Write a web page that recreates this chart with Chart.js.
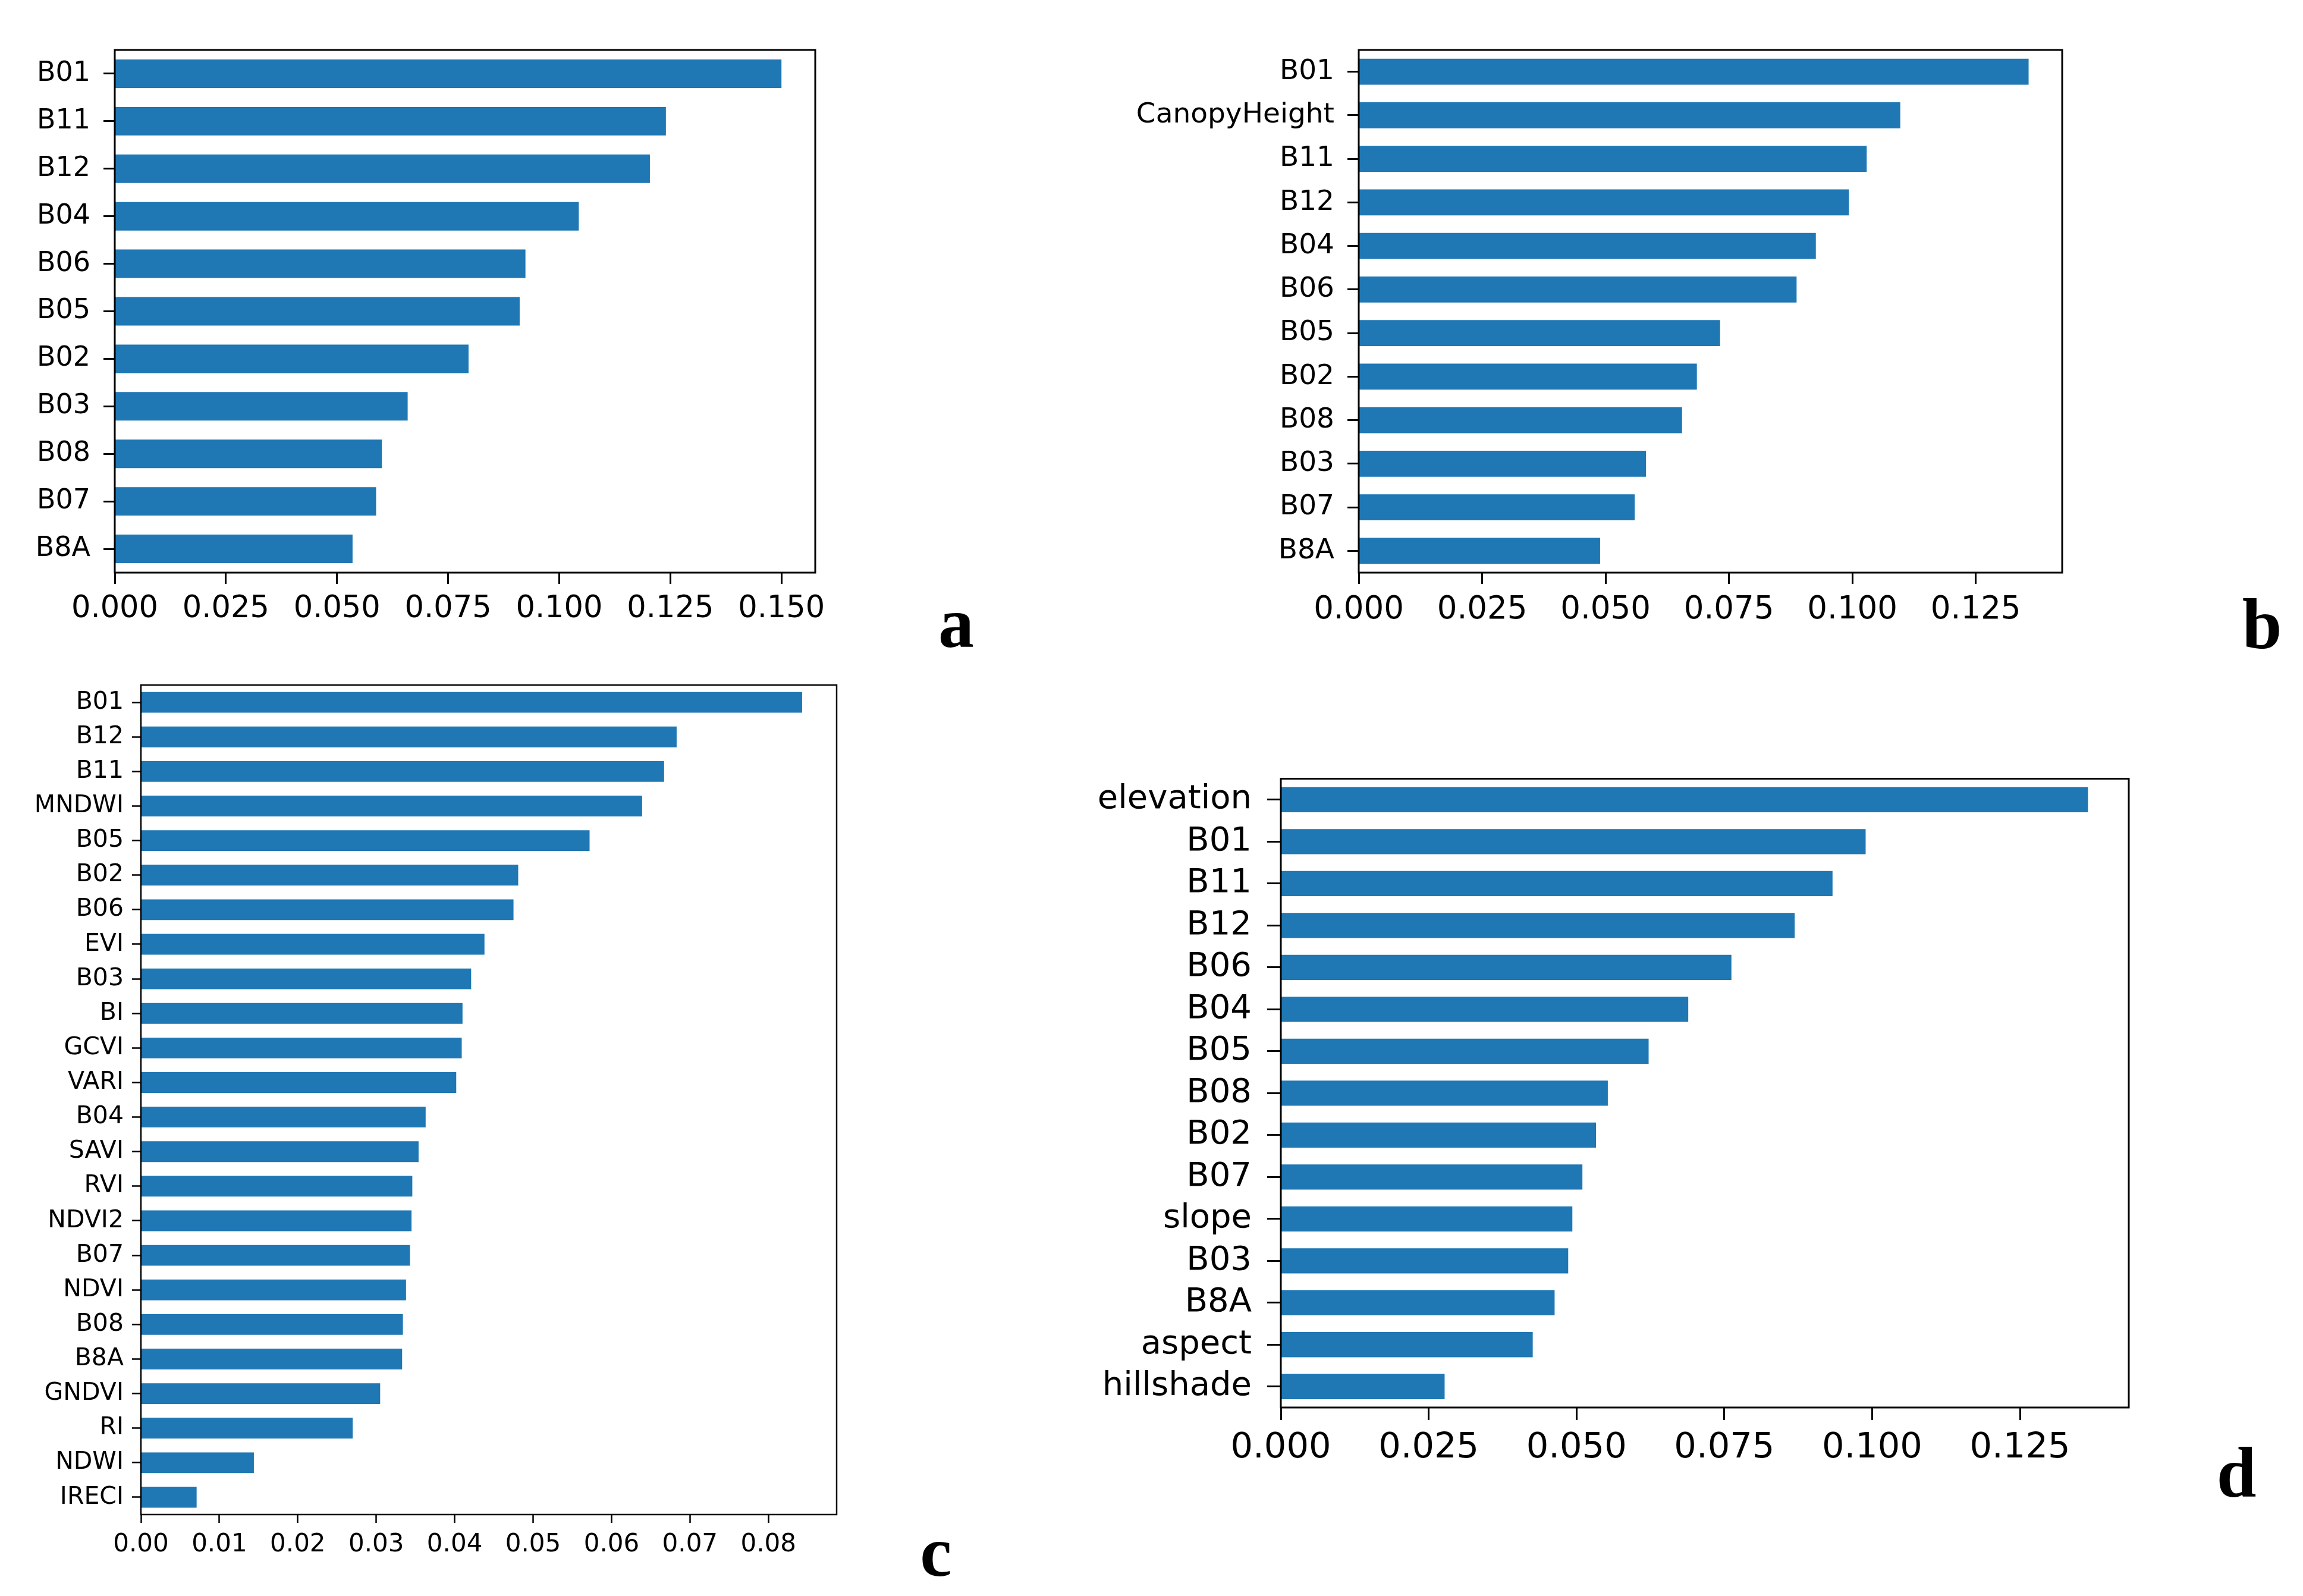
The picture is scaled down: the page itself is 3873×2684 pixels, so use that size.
<!DOCTYPE html>
<html>
<head>
<meta charset="utf-8">
<script src="https://cdn.jsdelivr.net/npm/chart.js@4.4.1/dist/chart.umd.min.js"></script>
<style>
    html, body { margin: 0; padding: 0; background: #fff; }
    body { width: 3873px; height: 2684px; position: relative; overflow: hidden; }
    canvas { position: absolute; }
    .tag {
        position: absolute; width: 200px; text-align: center;
        font-family: 'Liberation Serif', serif; font-weight: bold;
        font-size: 120px; line-height: 1; color: #000;
    }
</style>
</head>
<body>
<canvas id="chartA" width="1520" height="1063" style="left:0px;top:0px;width:1520px;height:1063px"></canvas>
<canvas id="chartB" width="1780" height="1063" style="left:1850px;top:0px;width:1780px;height:1063px"></canvas>
<canvas id="chartC" width="1550" height="1537" style="left:0px;top:1100px;width:1550px;height:1537px"></canvas>
<canvas id="chartD" width="1950" height="1227" style="left:1800px;top:1250px;width:1950px;height:1227px"></canvas>
<div class="tag" style="left:1508px;top:988px">a</div>
<div class="tag" style="left:3704px;top:990px">b</div>
<div class="tag" style="left:1474px;top:2550px">c</div>
<div class="tag" style="left:3661px;top:2417px">d</div>
<script>
// Panel a
const labelsA = ['B01', 'B11', 'B12', 'B04', 'B06', 'B05', 'B02', 'B03', 'B08', 'B07', 'B8A'];
const valuesA = [0.1500, 0.1240, 0.1204, 0.1044, 0.0924, 0.0911, 0.0796, 0.0659, 0.0601, 0.0588, 0.0535];
const ticksA = [0, 0.025, 0.05, 0.075, 0.1, 0.125, 0.15];

// Panel b
const labelsB = ['B01', 'CanopyHeight', 'B11', 'B12', 'B04', 'B06', 'B05', 'B02', 'B08', 'B03', 'B07', 'B8A'];
const valuesB = [0.1357, 0.1097, 0.1029, 0.0993, 0.0926, 0.0887, 0.0732, 0.0685, 0.0655, 0.0582, 0.0559, 0.0489];
const ticksB = [0, 0.025, 0.05, 0.075, 0.1, 0.125];

// Panel c
const labelsC = ['B01', 'B12', 'B11', 'MNDWI', 'B05', 'B02', 'B06', 'EVI', 'B03', 'BI', 'GCVI', 'VARI',
    'B04', 'SAVI', 'RVI', 'NDVI2', 'B07', 'NDVI', 'B08', 'B8A', 'GNDVI', 'RI', 'NDWI', 'IRECI'];
const valuesC = [0.0843, 0.0683, 0.0667, 0.0639, 0.0572, 0.0481, 0.0475, 0.0438, 0.0421, 0.0410, 0.0409, 0.0402,
    0.0363, 0.0354, 0.0346, 0.0345, 0.0343, 0.0338, 0.0334, 0.0333, 0.0305, 0.0270, 0.0144, 0.0071];
const ticksC = [0, 0.01, 0.02, 0.03, 0.04, 0.05, 0.06, 0.07, 0.08];

// Panel d
const labelsD = ['elevation', 'B01', 'B11', 'B12', 'B06', 'B04', 'B05', 'B08', 'B02', 'B07', 'slope', 'B03', 'B8A', 'aspect', 'hillshade'];
const valuesD = [0.1365, 0.0989, 0.0933, 0.0869, 0.0762, 0.0689, 0.0622, 0.0553, 0.0533, 0.0510, 0.0493, 0.0486, 0.0463, 0.0426, 0.0277];
const ticksD = [0, 0.025, 0.05, 0.075, 0.1, 0.125];

const barColor = '#1f77b4';

Chart.defaults.color = '#000';
Chart.defaults.font.family = "'DejaVu Sans', sans-serif";

// box around the plot area, like matplotlib spines
const framePlugin = {
    id: 'frame',
    afterDraw(chart, args, opts) {
        const a = chart.chartArea;
        const ctx = chart.ctx;
        ctx.save();
        ctx.strokeStyle = '#000';
        ctx.lineWidth = opts.width || 3;
        ctx.strokeRect(a.left, a.top, a.right - a.left, a.bottom - a.top);
        ctx.restore();
    }
};

function makePanel(id, labels, values, ticks, cfg) {
    const ctx = document.getElementById(id).getContext('2d');
    return new Chart(ctx, {
        type: 'bar',
        data: {
            labels: labels,
            datasets: [{
                data: values,
                backgroundColor: barColor,
                borderWidth: 0,
                barPercentage: 0.6,
                categoryPercentage: 1.0
            }]
        },
        options: {
            indexAxis: 'y',
            responsive: false,
            animation: false,
            devicePixelRatio: 1,
            layout: { padding: { top: cfg.padTop, right: cfg.padRight, left: 0, bottom: 0 } },
            plugins: {
                legend: { display: false },
                tooltip: { enabled: false },
                frame: { width: cfg.line }
            },
            scales: {
                y: {
                    grid: {
                        display: true, offset: false, drawOnChartArea: false,
                        drawTicks: true, tickLength: cfg.yTick, tickWidth: cfg.line, tickColor: '#000'
                    },
                    border: { display: false },
                    ticks: { font: { size: cfg.yFont }, padding: cfg.yPad, color: '#000' },
                    afterFit: (scale) => { scale.width = cfg.yWidth; }
                },
                x: {
                    min: 0,
                    max: cfg.xMax,
                    grid: {
                        display: true, drawOnChartArea: false,
                        drawTicks: true, tickLength: cfg.xTick, tickWidth: cfg.line, tickColor: '#000'
                    },
                    border: { display: false },
                    ticks: {
                        font: { size: cfg.xFont },
                        padding: cfg.xPad,
                        color: '#000',
                        maxRotation: 0,
                        autoSkip: false,
                        callback: (v) => Number(v).toFixed(cfg.digits)
                    },
                    afterBuildTicks: (scale) => { scale.ticks = ticks.map(v => ({ value: v })); },
                    afterFit: (scale) => { scale.height = cfg.xHeight; }
                }
            }
        },
        plugins: [framePlugin]
    });
}

makePanel('chartA', labelsA, valuesA, ticksA, {
    padTop: 84, padRight: 149, yWidth: 193, xHeight: 100, xMax: 0.1576,
    yFont: 46, xFont: 51, yPad: 22, xPad: 12, yTick: 19, xTick: 19, line: 3, digits: 3
});
makePanel('chartB', labelsB, valuesB, ticksB, {
    padTop: 84, padRight: 162, yWidth: 435, xHeight: 100, xMax: 0.1425,
    yFont: 47, xFont: 53, yPad: 22, xPad: 12, yTick: 19, xTick: 19, line: 3, digits: 3
});
makePanel('chartC', labelsC, valuesC, ticksC, {
    padTop: 52, padRight: 143, yWidth: 237, xHeight: 90, xMax: 0.0887,
    yFont: 41, xFont: 42, yPad: 14, xPad: 12, yTick: 15, xTick: 14, line: 2.5, digits: 2
});
makePanel('chartD', labelsD, valuesD, ticksD, {
    padTop: 47, padRight: 170, yWidth: 354, xHeight: 110, xMax: 0.1434,
    yFont: 56, xFont: 59, yPad: 26, xPad: 12, yTick: 23, xTick: 21, line: 3, digits: 3
});
</script>
</body>
</html>
